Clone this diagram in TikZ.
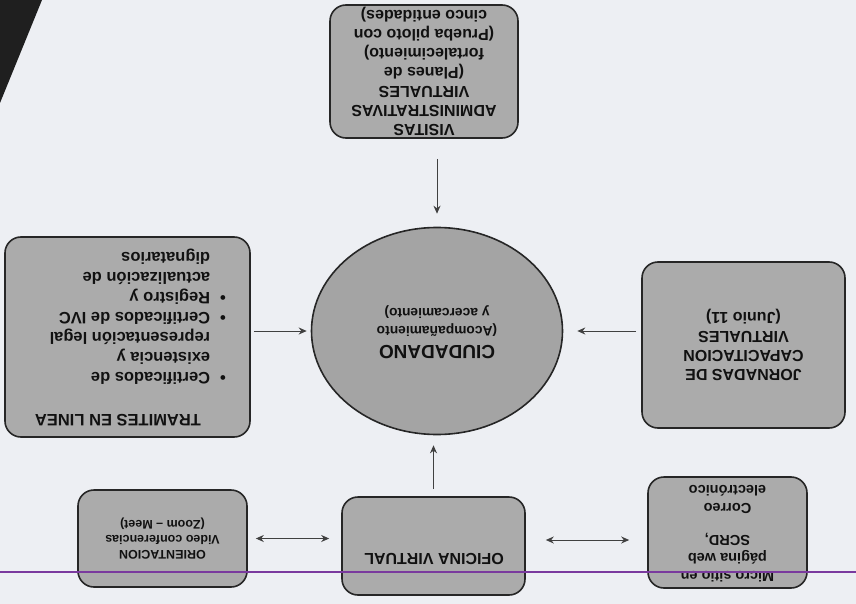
\documentclass[tikz,border=0pt]{standalone}
\usepackage{fontspec}
\setmainfont{Liberation Sans}
\usepackage{graphicx}
\usetikzlibrary{shapes.geometric,arrows.meta}
\definecolor{bgc}{HTML}{EDEFF3}
\definecolor{boxfill}{HTML}{ABABAB}
\definecolor{ellfill}{HTML}{A4A4A4}
\definecolor{boxline}{HTML}{262626}
\definecolor{arrowc}{HTML}{404040}
\definecolor{textc}{HTML}{111111}
\definecolor{purpleline}{HTML}{7A3A9E}
\newcommand{\flipt}[1]{\rotatebox[origin=c]{180}{\begin{tabular}{@{}c@{}}#1\end{tabular}}}
\tikzset{
  box/.style={draw=boxline, line width=1.6pt, fill=boxfill, rounded corners=16pt,
    inner sep=0pt, text=textc, font=\bfseries\fontsize{16}{19}\selectfont},
  conn/.style={draw=arrowc, line width=1pt, -{Stealth[length=8pt,width=7pt]}},
  dconn/.style={draw=arrowc, line width=1pt, {Stealth[length=8pt,width=7pt]}-{Stealth[length=8pt,width=7pt]}},
}
\begin{document}
\begin{tikzpicture}[x=1pt,y=-1pt]
\useasboundingbox (0,0) rectangle (856,604);
\fill[bgc] (0,0) rectangle (856,604);
\fill[black!88] (0,0) -- (42,0) -- (0,103) -- cycle;

\node[box, minimum width=188pt, minimum height=133pt] (vis) at (424,71.5)
  {\flipt{VISITAS\\ADMINISTRATIVAS\\VIRTUALES\\(Planes de\\fortalecimiento)\\(Prueba piloto con\\cinco entidades)}};

\node[ellipse, draw=boxline, line width=1.6pt, fill=ellfill, minimum width=251pt, minimum height=207pt,
  inner sep=0pt, text=textc, font=\bfseries\fontsize{13.8}{18}\selectfont] (ciu) at (437,331)
  {\rotatebox[origin=c]{180}{\begin{tabular}{@{}c@{}}{\fontsize{19}{24}\selectfont CIUDADANO}\\[1pt](Acompañamiento\\y acercamiento)\end{tabular}}};

\node[box, minimum width=245pt, minimum height=200pt, font=\bfseries\fontsize{16.5}{20}\selectfont] (tra) at (127.5,337)
  {\rotatebox[origin=c]{180}{\begin{tabular}{@{}l@{\hspace{10pt}}l@{}}\multicolumn{2}{c}{\hspace{19pt}TRAMITES EN LINEA}\\[22pt]
   \textbullet & Certificados de\\ & existencia y\\ & representación legal\\
   \textbullet & Certificados de IVC\\
   \textbullet & Registro y\\ & actualización de\\ & dignatarios\end{tabular}}};

\node[box, minimum width=203pt, minimum height=166pt] (jor) at (743.5,345)
  {\flipt{JORNADAS DE\\CAPACITACION\\VIRTUALES\\(Junio 11)}};

\node[box, minimum width=183pt, minimum height=98pt] (ofi) at (433.5,546) {};
\node[text=textc, font=\bfseries\fontsize{16}{19}\selectfont, inner sep=0pt] (ofit) at (434,557)
  {\flipt{OFICINA VIRTUAL}};

\node[box, minimum width=169pt, minimum height=97pt, font=\bfseries\fontsize{12.5}{15}\selectfont] (ori) at (162.5,538.5)
  {\flipt{ORIENTACION\\Video conferencias\\(Zoom – Meet)}};

\node[box, minimum width=159pt, minimum height=111pt, font=\bfseries\fontsize{14.5}{18}\selectfont] (mic) at (727.5,532.5)
  {\flipt{Micro sitio en\\página web\\SCRD,\\[14pt]Correo\\electrónico}};

\draw[conn, shorten <=20pt, shorten >=13pt] (vis.south -| ciu.north) -- (ciu.north);
\draw[conn, shorten <=3pt, shorten >=4pt] (tra.east |- ciu.west) -- (ciu.west);
\draw[conn, shorten <=5pt, shorten >=14pt] (jor.west |- ciu.east) -- (ciu.east);
\draw[conn, shorten <=7pt, shorten >=10pt] (ofi.north) -- (ofi.north |- ciu.south);
\draw[dconn, shorten <=8pt, shorten >=12pt] (ori.east) -- (ofi.west |- ori.east);
\draw[dconn, shorten <=20pt, shorten >=18pt] ([yshift=6pt]ofi.east) -- ([yshift=6pt]ofi.east -| mic.west);

\draw[purpleline, line width=1.2pt] (0,572) -- (856,572);
\end{tikzpicture}
\end{document}
